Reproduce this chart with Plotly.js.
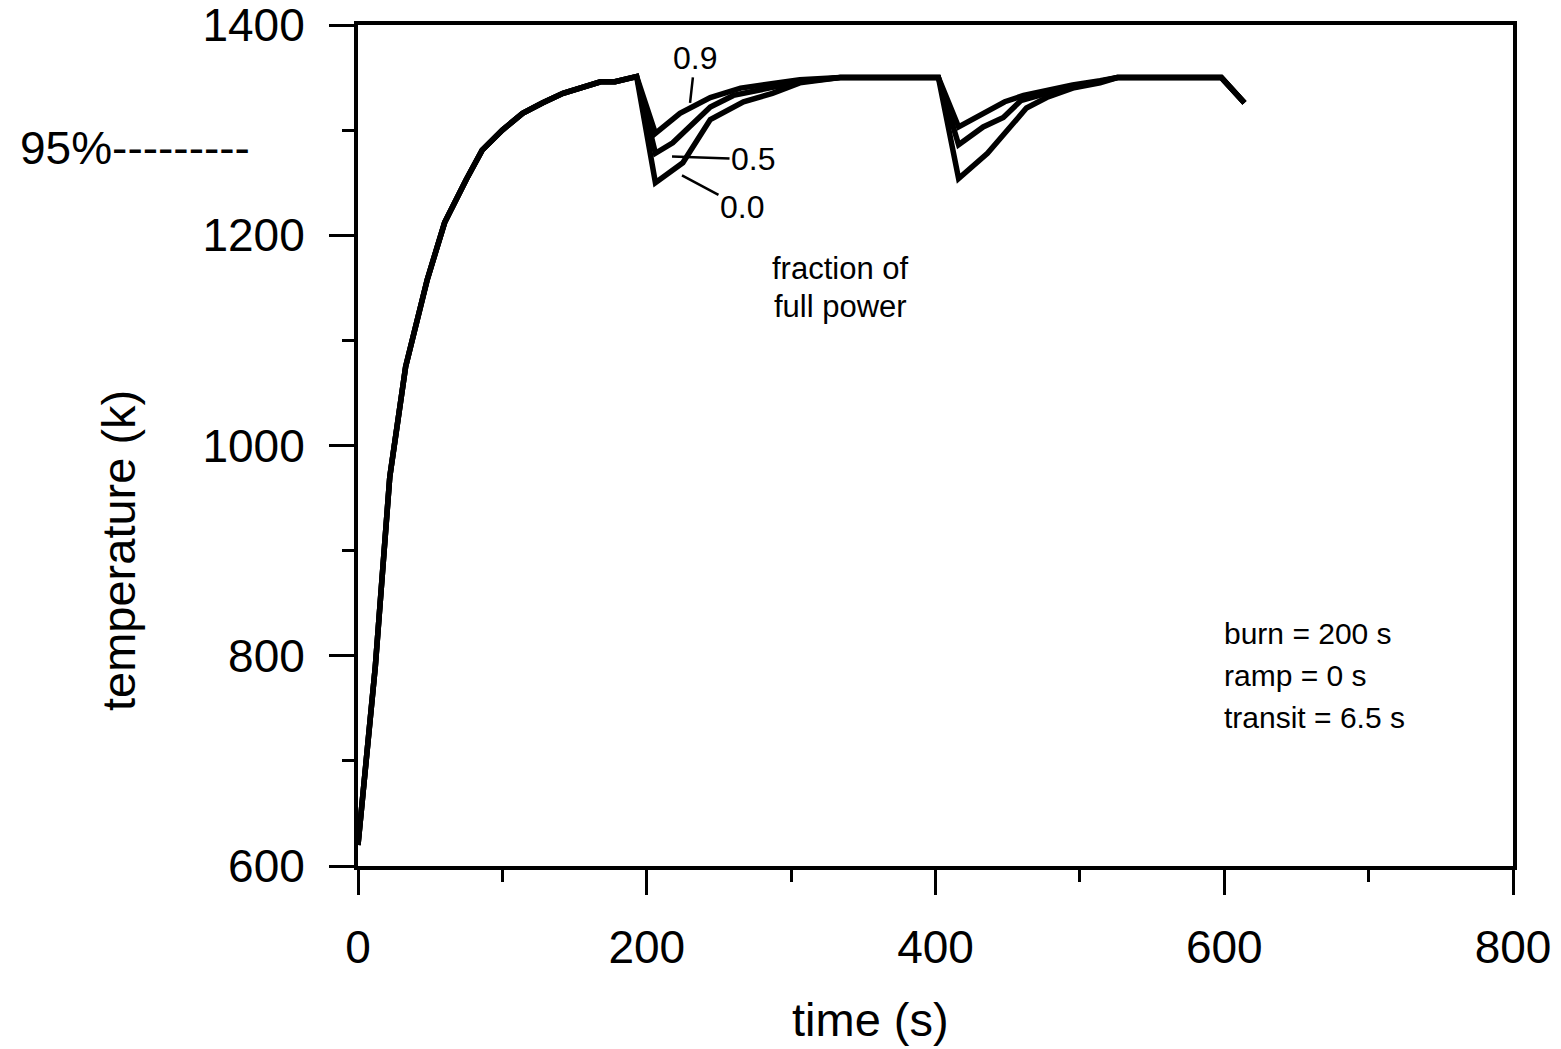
<!DOCTYPE html>
<html>
<head>
<meta charset="utf-8">
<script src="https://cdn.plot.ly/plotly-3.0.1.min.js"></script>
<style>html,body{margin:0;padding:0;background:#fff;}#chart{width:1561px;height:1049px;}</style>
</head>
<body>
<div id="chart"></div>
<script>
// shared first burn (all fractions identical)
const riseTime = [0, 12, 22, 33, 48, 60, 75, 86, 100, 114, 128, 142, 168, 178, 193];
const riseTemp = [620, 790, 970, 1075, 1158, 1212, 1253, 1281, 1300, 1316, 1326, 1335, 1346, 1346, 1351];

// fraction of full power = 0.9
const time09 = [206, 223, 244, 265, 287, 306, 334, 402, 416, 431, 448, 461, 477, 495, 514, 526, 598, 614];
const temp09 = [1297, 1316, 1331, 1340, 1345, 1348, 1350, 1350, 1303, 1314, 1327, 1333, 1338, 1343, 1347, 1350, 1350, 1326];

// fraction of full power = 0.5
const time05 = [206, 218, 244, 260, 287, 306, 334, 402, 416, 433, 447, 459, 477, 495, 514, 526, 598, 614];
const temp05 = [1278, 1288, 1322, 1333, 1340, 1346, 1350, 1350, 1286, 1303, 1312, 1328, 1335, 1341, 1346, 1350, 1350, 1326];

// fraction of full power = 0.0
const time00 = [206, 225, 244, 267, 287, 306, 334, 402, 416, 436, 450, 463, 477, 495, 514, 526, 598, 614];
const temp00 = [1250, 1269, 1310, 1327, 1335, 1345, 1350, 1350, 1254, 1278, 1300, 1321, 1331, 1340, 1345, 1350, 1350, 1326];

const seriesNames = ['0.9', '0.5', '0.0'];
const xTickVals = [0, 200, 400, 600, 800];
const yTickVals = [600, 800, 1000, 1200, 1400];

const FONT = 'Liberation Sans, Arial, Helvetica, sans-serif';

const seriesX = [time09, time05, time00];
const seriesY = [temp09, temp05, temp00];
const traces = seriesNames.map((n, i) => ({
  type: 'scatter', mode: 'lines', name: n,
  x: riseTime.concat(seriesX[i]),
  y: riseTemp.concat(seriesY[i]),
  line: {color: '#000', width: 5.5},
  hoverinfo: 'x+y+name'
}));

const layout = {
  width: 1561, height: 1049,
  margin: {l: 358, r: 48, t: 25, b: 183, pad: 0},
  paper_bgcolor: '#fff', plot_bgcolor: '#fff',
  showlegend: false,
  font: {family: FONT, color: '#000'},
  xaxis: {
    range: [0, 800], tickvals: xTickVals, ticktext: xTickVals.map(String),
    showgrid: false, zeroline: false,
    showline: true, linecolor: '#000', linewidth: 4, mirror: true,
    ticks: 'outside', ticklen: 25, tickwidth: 3, tickcolor: '#000',
    ticklabelstandoff: 13, ticklabeloverflow: 'allow',
    tickfont: {family: FONT, size: 46, color: '#000'},
    minor: {dtick: 100, tick0: 0, ticks: 'outside', ticklen: 12, tickwidth: 3, tickcolor: '#000', showgrid: false}
  },
  yaxis: {
    range: [600, 1400], tickvals: yTickVals, ticktext: yTickVals.map(String),
    showgrid: false, zeroline: false,
    showline: true, linecolor: '#000', linewidth: 4, mirror: true,
    ticks: 'outside', ticklen: 25, tickwidth: 3, tickcolor: '#000',
    ticklabelstandoff: 15, ticklabeloverflow: 'allow',
    tickfont: {family: FONT, size: 46, color: '#000'},
    minor: {dtick: 100, tick0: 600, ticks: 'outside', ticklen: 12, tickwidth: 3, tickcolor: '#000', showgrid: false}
  },
  annotations: [
    {text: 'time (s)', xref: 'paper', yref: 'paper', x: 0.4433, y: -0.1831,
     xanchor: 'center', yanchor: 'middle', showarrow: false, font: {family: FONT, size: 47}},
    {text: 'temperature (k)', xref: 'paper', yref: 'paper', x: -0.2078, y: 0.3757, textangle: -90,
     xanchor: 'center', yanchor: 'middle', showarrow: false, font: {family: FONT, size: 47}},
    {text: '95%---------', xref: 'paper', yref: 'paper', x: -0.2944, y: 0.8538,
     xanchor: 'left', yanchor: 'middle', showarrow: false, font: {family: FONT, size: 46}},
    {text: 'fraction of', xref: 'paper', yref: 'paper', x: 0.418, y: 0.711,
     xanchor: 'center', yanchor: 'middle', showarrow: false, font: {family: FONT, size: 31}},
    {text: 'full power', xref: 'paper', yref: 'paper', x: 0.418, y: 0.665,
     xanchor: 'center', yanchor: 'middle', showarrow: false, font: {family: FONT, size: 31}},
    {text: 'burn = 200 s', xref: 'paper', yref: 'paper', x: 0.7481, y: 0.2770,
     xanchor: 'left', yanchor: 'middle', showarrow: false, font: {family: FONT, size: 30}},
    {text: 'ramp = 0 s', xref: 'paper', yref: 'paper', x: 0.7481, y: 0.2271,
     xanchor: 'left', yanchor: 'middle', showarrow: false, font: {family: FONT, size: 30}},
    {text: 'transit = 6.5 s', xref: 'paper', yref: 'paper', x: 0.7481, y: 0.1769,
     xanchor: 'left', yanchor: 'middle', showarrow: false, font: {family: FONT, size: 30}},
    {text: seriesNames[0], x: 230, y: 1326, xref: 'x', yref: 'y', showarrow: true, arrowhead: 0,
     arrowwidth: 2.5, arrowcolor: '#000', ax: 5, ay: -45, font: {family: FONT, size: 32}},
    {text: seriesNames[1], x: 217.5, y: 1275, xref: 'x', yref: 'y', showarrow: true, arrowhead: 0,
     arrowwidth: 2.5, arrowcolor: '#000', ax: 81, ay: 3, font: {family: FONT, size: 32}},
    {text: seriesNames[2], x: 224.4, y: 1257, xref: 'x', yref: 'y', showarrow: true, arrowhead: 0,
     arrowwidth: 2.5, arrowcolor: '#000', ax: 60, ay: 32, font: {family: FONT, size: 32}}
  ]
};

Plotly.newPlot('chart', traces, layout, {displayModeBar: false, staticPlot: true});
</script>
</body>
</html>
